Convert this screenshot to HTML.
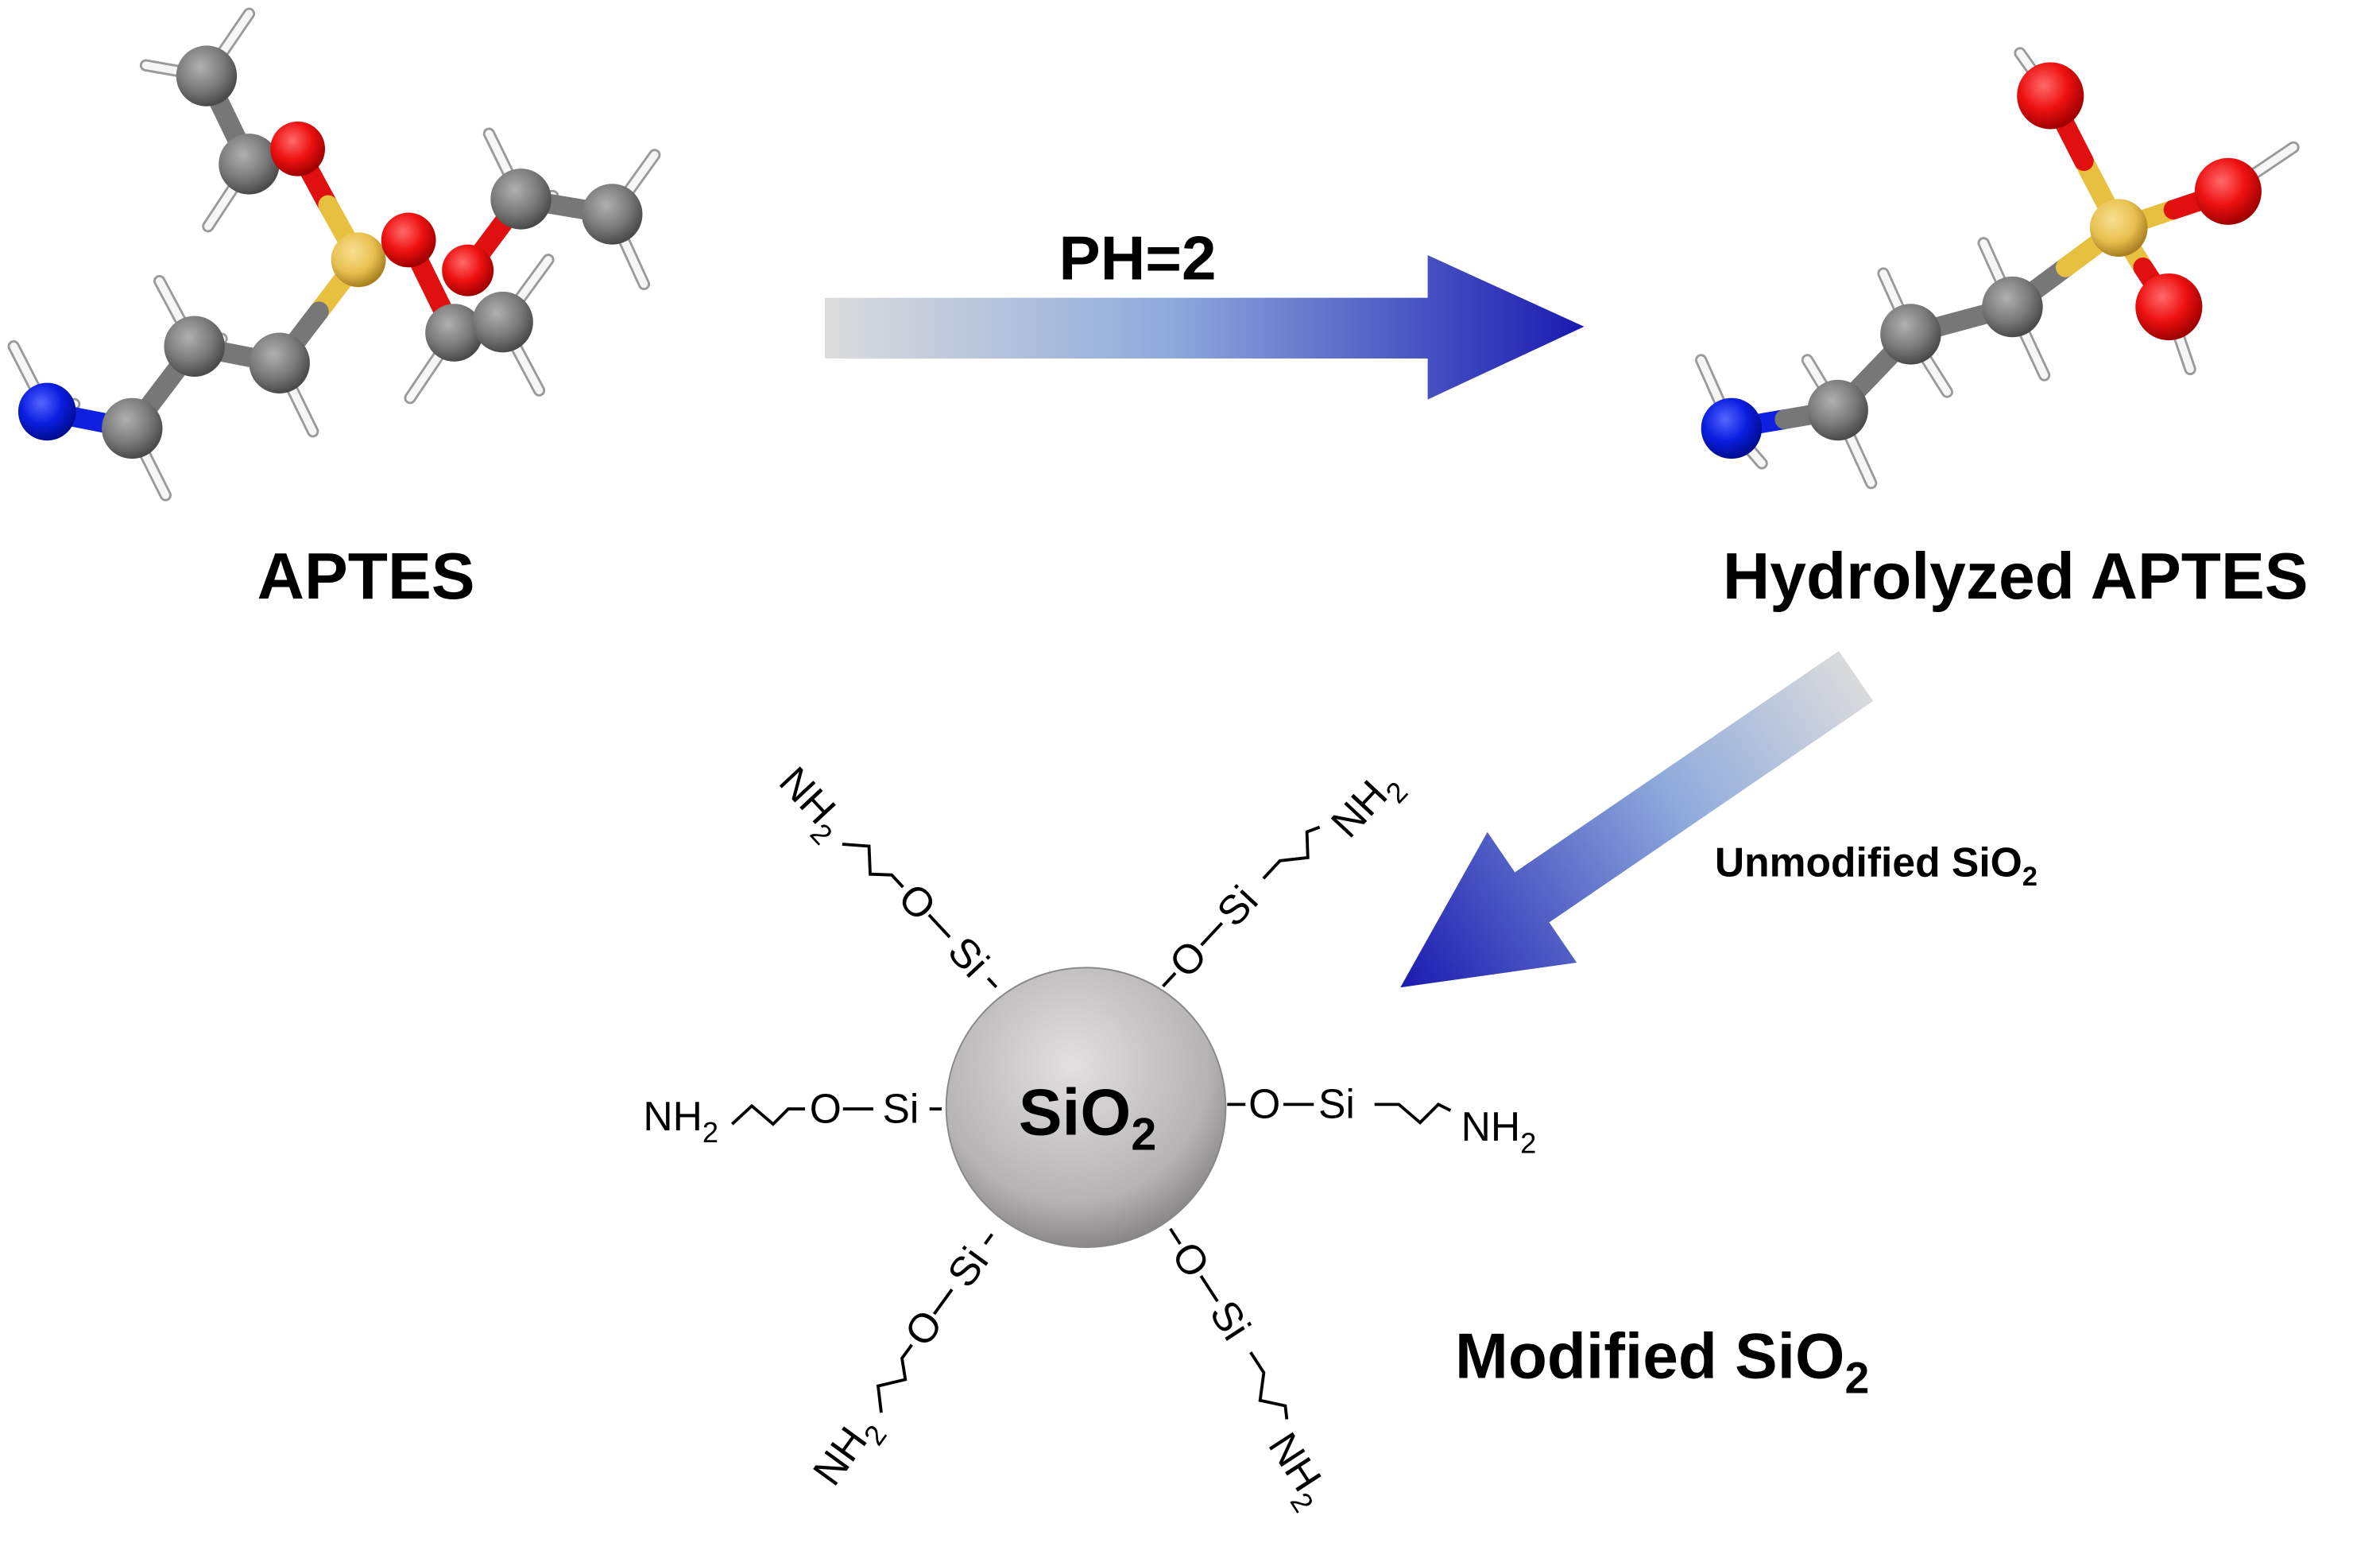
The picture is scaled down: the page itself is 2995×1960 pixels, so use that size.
<!DOCTYPE html>
<html><head><meta charset="utf-8"><style>
html,body{margin:0;padding:0;background:#fff}
svg{display:block}
text{font-family:"Liberation Sans",Arial,sans-serif}
</style></head><body>
<svg width="2995" height="1960" viewBox="0 0 1567 1025.6" preserveAspectRatio="none" xmlns="http://www.w3.org/2000/svg">
<defs>
<radialGradient id="gC" cx="0.4" cy="0.35" r="0.65"><stop offset="0" stop-color="#b0b0b0"/><stop offset="0.6" stop-color="#7a7a7a"/><stop offset="1" stop-color="#4a4a4a"/></radialGradient>
<radialGradient id="gO" cx="0.4" cy="0.35" r="0.65"><stop offset="0" stop-color="#ff6a6a"/><stop offset="0.55" stop-color="#ee1111"/><stop offset="1" stop-color="#a00000"/></radialGradient>
<radialGradient id="gN" cx="0.4" cy="0.35" r="0.65"><stop offset="0" stop-color="#5566ff"/><stop offset="0.55" stop-color="#0a1ee0"/><stop offset="1" stop-color="#000c90"/></radialGradient>
<radialGradient id="gS" cx="0.4" cy="0.35" r="0.65"><stop offset="0" stop-color="#f8e090"/><stop offset="0.6" stop-color="#e8c050"/><stop offset="1" stop-color="#a88020"/></radialGradient>
<radialGradient id="gSp" cx="0.45" cy="0.35" r="0.7"><stop offset="0" stop-color="#e2e0e0"/><stop offset="0.7" stop-color="#b5b3b3"/><stop offset="1" stop-color="#7c7a7a"/></radialGradient>
<linearGradient id="a1" x1="543" y1="0" x2="1043" y2="0" gradientUnits="userSpaceOnUse"><stop offset="0" stop-color="#dcdcdc"/><stop offset="0.45" stop-color="#8fabdc"/><stop offset="1" stop-color="#1a1ab0"/></linearGradient>
<linearGradient id="a2" x1="1225" y1="445" x2="922" y2="650" gradientUnits="userSpaceOnUse"><stop offset="0" stop-color="#dcdcdc"/><stop offset="0.4" stop-color="#8fabdc"/><stop offset="1" stop-color="#1a1ab0"/></linearGradient>
</defs>

<g stroke-linecap="round">
<g stroke="#9a9a9a" stroke-width="8">
<line x1="136" y1="50" x2="164" y2="9"/><line x1="136" y1="50" x2="96" y2="43"/>
<line x1="164" y1="108" x2="137" y2="149"/><line x1="31" y1="271" x2="9" y2="228"/>
<line x1="31" y1="271" x2="49" y2="266"/><line x1="87" y1="282" x2="109" y2="326"/>
<line x1="128" y1="228" x2="105" y2="185"/><line x1="128" y1="228" x2="146" y2="223"/>
<line x1="184" y1="239" x2="206" y2="284"/><line x1="343" y1="131" x2="322" y2="88"/>
<line x1="343" y1="131" x2="364" y2="129"/><line x1="403" y1="141" x2="431" y2="102"/>
<line x1="403" y1="141" x2="424" y2="187"/><line x1="299" y1="219" x2="270" y2="262"/>
<line x1="299" y1="219" x2="290" y2="205"/><line x1="331" y1="212" x2="361" y2="171"/>
<line x1="331" y1="212" x2="355" y2="257"/>
</g>
<g stroke="#f6f6f6" stroke-width="5">
<line x1="136" y1="50" x2="164" y2="9"/><line x1="136" y1="50" x2="96" y2="43"/>
<line x1="164" y1="108" x2="137" y2="149"/><line x1="31" y1="271" x2="9" y2="228"/>
<line x1="31" y1="271" x2="49" y2="266"/><line x1="87" y1="282" x2="109" y2="326"/>
<line x1="128" y1="228" x2="105" y2="185"/><line x1="128" y1="228" x2="146" y2="223"/>
<line x1="184" y1="239" x2="206" y2="284"/><line x1="343" y1="131" x2="322" y2="88"/>
<line x1="343" y1="131" x2="364" y2="129"/><line x1="403" y1="141" x2="431" y2="102"/>
<line x1="403" y1="141" x2="424" y2="187"/><line x1="299" y1="219" x2="270" y2="262"/>
<line x1="299" y1="219" x2="290" y2="205"/><line x1="331" y1="212" x2="361" y2="171"/>
<line x1="331" y1="212" x2="355" y2="257"/>
</g>
<g stroke-width="13">
<line x1="136" y1="50" x2="164" y2="108" stroke="#777"/>
<line x1="164" y1="108" x2="196" y2="98" stroke="#777"/>
<line x1="196" y1="98" x2="216" y2="135" stroke="#e01010"/>
<line x1="216" y1="135" x2="236" y2="171" stroke="#e8c040"/>
<line x1="236" y1="171" x2="210" y2="205" stroke="#e8c040"/>
<line x1="210" y1="205" x2="184" y2="239" stroke="#777"/>
<line x1="184" y1="239" x2="128" y2="228" stroke="#777"/>
<line x1="128" y1="228" x2="87" y2="282" stroke="#777"/>
<line x1="87" y1="282" x2="31" y2="271" stroke="#1020e0"/>
<line x1="308" y1="178" x2="343" y2="131" stroke="#e01010"/>
<line x1="343" y1="131" x2="403" y2="141" stroke="#777"/>
<line x1="269" y1="158" x2="299" y2="219" stroke="#e01010"/>
<line x1="299" y1="219" x2="331" y2="212" stroke="#777"/>
</g>
</g>
<circle cx="136" cy="50" r="20" fill="url(#gC)"/>
<circle cx="164" cy="108" r="20" fill="url(#gC)"/>
<circle cx="196" cy="98" r="18" fill="url(#gO)"/>
<circle cx="236" cy="171" r="18" fill="url(#gS)"/>
<circle cx="184" cy="239" r="20" fill="url(#gC)"/>
<circle cx="128" cy="228" r="20" fill="url(#gC)"/>
<circle cx="87" cy="282" r="20" fill="url(#gC)"/>
<circle cx="31" cy="271" r="19" fill="url(#gN)"/>
<circle cx="403" cy="141" r="20" fill="url(#gC)"/>
<circle cx="343" cy="131" r="20" fill="url(#gC)"/>
<circle cx="308" cy="178" r="17" fill="url(#gO)"/>
<circle cx="299" cy="219" r="19" fill="url(#gC)"/>
<circle cx="331" cy="212" r="20" fill="url(#gC)"/>
<circle cx="269" cy="158" r="18" fill="url(#gO)"/>

<g stroke-linecap="round">
<g stroke="#9a9a9a" stroke-width="8">
<line x1="1140" y1="282" x2="1120" y2="237"/><line x1="1140" y1="282" x2="1160" y2="305"/>
<line x1="1210" y1="270" x2="1190" y2="237"/><line x1="1210" y1="270" x2="1232" y2="318"/>
<line x1="1258" y1="220" x2="1240" y2="180"/><line x1="1258" y1="220" x2="1282" y2="258"/>
<line x1="1325" y1="202" x2="1306" y2="160"/><line x1="1325" y1="202" x2="1346" y2="247"/>
<line x1="1350" y1="63" x2="1330" y2="35"/><line x1="1467" y1="126" x2="1510" y2="97"/>
<line x1="1428" y1="202" x2="1442" y2="243"/>
</g>
<g stroke="#f6f6f6" stroke-width="5">
<line x1="1140" y1="282" x2="1120" y2="237"/><line x1="1140" y1="282" x2="1160" y2="305"/>
<line x1="1210" y1="270" x2="1190" y2="237"/><line x1="1210" y1="270" x2="1232" y2="318"/>
<line x1="1258" y1="220" x2="1240" y2="180"/><line x1="1258" y1="220" x2="1282" y2="258"/>
<line x1="1325" y1="202" x2="1306" y2="160"/><line x1="1325" y1="202" x2="1346" y2="247"/>
<line x1="1350" y1="63" x2="1330" y2="35"/><line x1="1467" y1="126" x2="1510" y2="97"/>
<line x1="1428" y1="202" x2="1442" y2="243"/>
</g>
<g stroke-width="13">
<line x1="1140" y1="282" x2="1175" y2="276" stroke="#1020e0"/>
<line x1="1175" y1="276" x2="1210" y2="270" stroke="#777"/>
<line x1="1210" y1="270" x2="1258" y2="220" stroke="#777"/>
<line x1="1258" y1="220" x2="1325" y2="202" stroke="#777"/>
<line x1="1325" y1="202" x2="1360" y2="176" stroke="#777"/>
<line x1="1360" y1="176" x2="1395" y2="150" stroke="#e8c040"/>
<line x1="1395" y1="150" x2="1372" y2="106" stroke="#e8c040"/>
<line x1="1372" y1="106" x2="1350" y2="63" stroke="#e01010"/>
<line x1="1395" y1="150" x2="1431" y2="138" stroke="#e8c040"/>
<line x1="1431" y1="138" x2="1467" y2="126" stroke="#e01010"/>
<line x1="1395" y1="150" x2="1411" y2="176" stroke="#e8c040"/>
<line x1="1411" y1="176" x2="1428" y2="202" stroke="#e01010"/>
</g>
</g>
<circle cx="1325" cy="202" r="20" fill="url(#gC)"/>
<circle cx="1258" cy="220" r="20" fill="url(#gC)"/>
<circle cx="1210" cy="270" r="20" fill="url(#gC)"/>
<circle cx="1140" cy="282" r="20" fill="url(#gN)"/>
<circle cx="1395" cy="150" r="19" fill="url(#gS)"/>
<circle cx="1350" cy="63" r="22" fill="url(#gO)"/>
<circle cx="1467" cy="126" r="22" fill="url(#gO)"/>
<circle cx="1428" cy="202" r="22" fill="url(#gO)"/>

<polygon points="543,196 940,196 940,168 1043,215 940,263 940,236 543,236" fill="url(#a1)"/>
<polygon points="1233.3,461.5 1020,607.2 1038.1,633.7 922,650 979.3,547.7 997.4,574.2 1210.7,428.5" fill="url(#a2)"/>

<text x="749" y="184" font-size="41" font-weight="bold" text-anchor="middle">PH=2</text>
<text x="241" y="394" font-size="43" font-weight="bold" text-anchor="middle">APTES</text>
<text x="1327" y="394" font-size="43" font-weight="bold" text-anchor="middle">Hydrolyzed APTES</text>
<text x="1129" y="577" font-size="27" font-weight="bold">Unmodified SiO<tspan font-size="18" dy="6">2</tspan></text>
<text x="958" y="907" font-size="42" font-weight="bold">Modified SiO<tspan font-size="29" dy="10">2</tspan></text>

<circle cx="715" cy="729" r="92" fill="url(#gSp)" stroke="#888" stroke-width="1"/>
<text x="716" y="747" font-size="43" font-weight="bold" text-anchor="middle">SiO<tspan font-size="30" dy="10">2</tspan></text>

<g font-size="27" fill="#000">
<g transform="translate(623,730)">
<line x1="-11" y1="0" x2="-3" y2="0" stroke="#000" stroke-width="2"/>
<text x="-18" y="9" text-anchor="end">Si</text>
<line x1="-68" y1="0" x2="-48" y2="0" stroke="#000" stroke-width="2"/>
<text x="-69" y="9" text-anchor="end">O</text>
<polyline points="-93,0 -104,0 -114,10 -128,-2 -141,10" fill="none" stroke="#000" stroke-width="2"/>
<text x="-150" y="14" text-anchor="end">NH<tspan font-size="19" dy="8">2</tspan></text>
</g>
<g transform="translate(658,652) rotate(47)">
<line x1="-11" y1="0" x2="-3" y2="0" stroke="#000" stroke-width="2"/>
<text x="-18" y="9" text-anchor="end">Si</text>
<line x1="-68" y1="0" x2="-48" y2="0" stroke="#000" stroke-width="2"/>
<text x="-69" y="9" text-anchor="end">O</text>
<polyline points="-93,0 -104,0 -114,10 -128,-2 -141,10" fill="none" stroke="#000" stroke-width="2"/>
<text x="-150" y="14" text-anchor="end">NH<tspan font-size="19" dy="8">2</tspan></text>
</g>
<g transform="translate(655,810) rotate(-54)">
<line x1="-11" y1="0" x2="-3" y2="0" stroke="#000" stroke-width="2"/>
<text x="-18" y="9" text-anchor="end">Si</text>
<line x1="-68" y1="0" x2="-48" y2="0" stroke="#000" stroke-width="2"/>
<text x="-69" y="9" text-anchor="end">O</text>
<polyline points="-93,0 -104,0 -114,10 -128,-2 -141,10" fill="none" stroke="#000" stroke-width="2"/>
<text x="-150" y="14" text-anchor="end">NH<tspan font-size="19" dy="8">2</tspan></text>
</g>
<g transform="translate(807,727)">
<line x1="1" y1="0" x2="13" y2="0" stroke="#000" stroke-width="2"/>
<text x="15" y="9">O</text>
<line x1="38" y1="0" x2="58" y2="0" stroke="#000" stroke-width="2"/>
<text x="61" y="9">Si</text>
<polyline points="98,0 114,0 128,12 140,0 148,4" fill="none" stroke="#000" stroke-width="2"/>
<text x="155" y="24">NH<tspan font-size="19" dy="8">2</tspan></text>
</g>
<g transform="translate(765,650) rotate(-47)">
<line x1="1" y1="0" x2="13" y2="0" stroke="#000" stroke-width="2"/>
<text x="15" y="9">O</text>
<line x1="38" y1="0" x2="58" y2="0" stroke="#000" stroke-width="2"/>
<text x="61" y="9">Si</text>
<polyline points="98,0 114,0 128,12 140,0 148,4" fill="none" stroke="#000" stroke-width="2"/>
<text x="155" y="24">NH<tspan font-size="19" dy="8">2</tspan></text>
</g>
<g transform="translate(770,808) rotate(57)">
<line x1="1" y1="0" x2="13" y2="0" stroke="#000" stroke-width="2"/>
<text x="15" y="9">O</text>
<line x1="38" y1="0" x2="58" y2="0" stroke="#000" stroke-width="2"/>
<text x="61" y="9">Si</text>
<polyline points="98,0 114,0 128,12 140,0 148,4" fill="none" stroke="#000" stroke-width="2"/>
<text x="155" y="24">NH<tspan font-size="19" dy="8">2</tspan></text>
</g>
</g>
</svg>
</body></html>
